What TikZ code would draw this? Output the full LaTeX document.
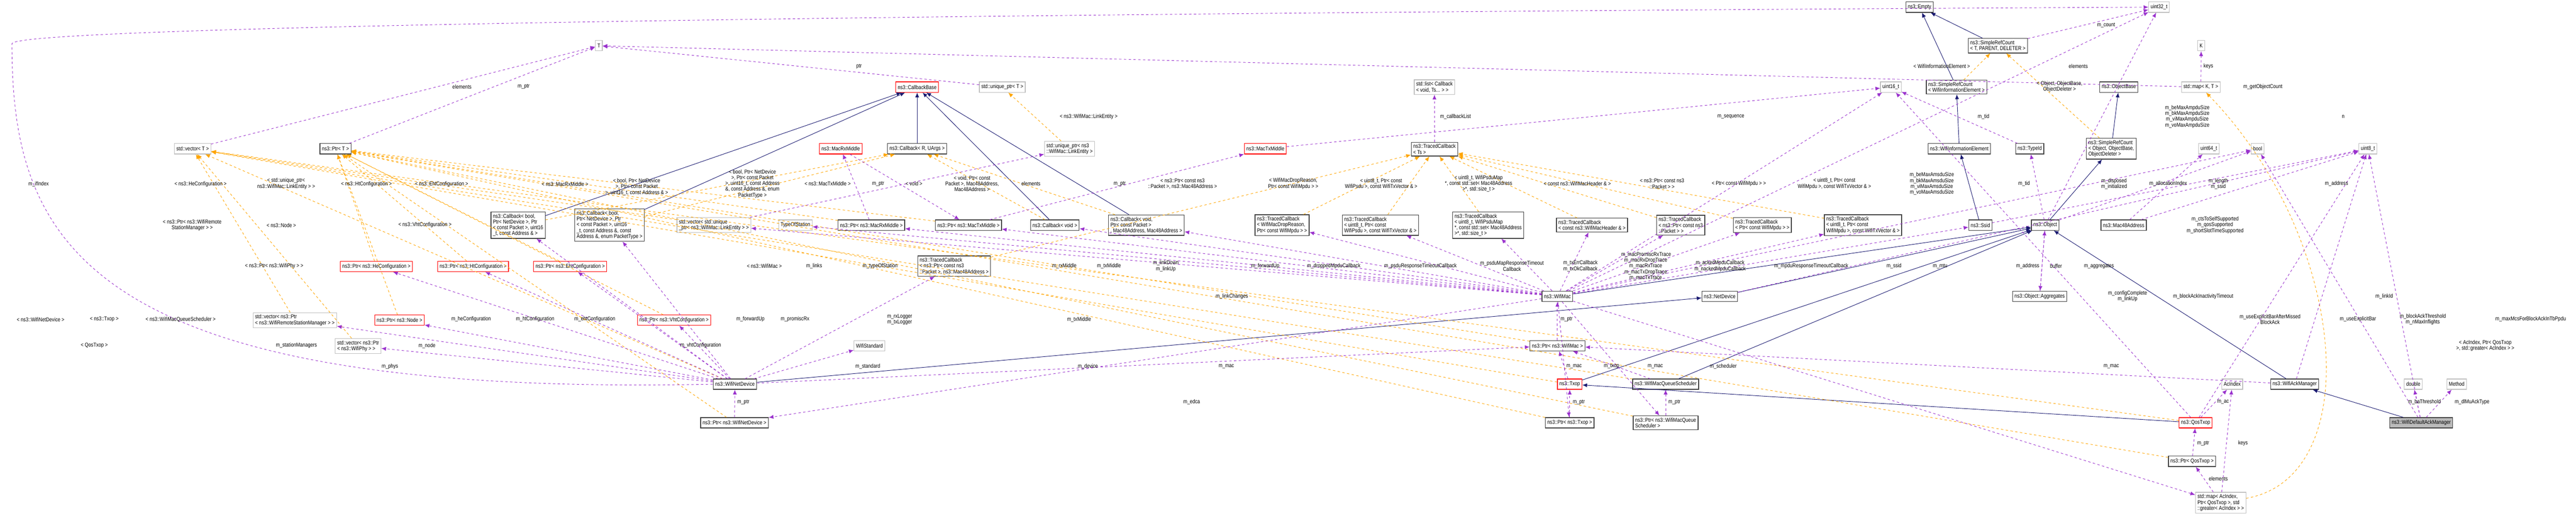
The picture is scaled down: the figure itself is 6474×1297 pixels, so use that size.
\documentclass[tikz,border=0pt]{standalone}
\usepackage{fontspec}
\setmainfont[FakeStretch=0.84]{Liberation Sans}
\usetikzlibrary{arrows.meta}
\definecolor{usec}{HTML}{9A32CD}
\definecolor{tplc}{HTML}{FFA500}
\definecolor{inhc}{HTML}{191970}
\newcommand{\fs}{\fontsize{7}{7.3}\selectfont}
\tikzset{
 box/.style={draw=black!75, line width=0.8pt, fill=white, font=\fs, align=left, inner sep=2.5pt, minimum height=13pt},
 rbox/.style={box, draw=red},
 gbox/.style={box, draw=black!25},
 mbox/.style={box, fill=black!27},
 use/.style={draw=usec, dashed, line width=0.6pt, -{Latex[length=6pt,width=5pt]}},
 tpl/.style={draw=tplc, dashed, line width=0.6pt, -{Latex[length=6pt,width=5pt]}},
 inh/.style={draw=inhc, line width=0.6pt, -{Latex[length=6pt,width=5pt]}},
 lbl/.style={font=\fs, align=center, inner sep=0pt}
}
\begin{document}
\begin{tikzpicture}[x=0.5pt,y=-0.5pt]
\useasboundingbox (0,0) rectangle (6474,1297);
% ---------- nodes
\node[gbox] (T) at (1505,115) {T};
\node[gbox] (vecT) at (484,374) {std::vector< T >};
\node[box] (ptrT) at (843,374) {ns3::Ptr< T >};
\node[box] (cb1) at (1302,566) {ns3::Callback< bool,\\ Ptr< NetDevice >, Ptr\\< const Packet >, uint16\\\_t, const Address \& >};
\node[box] (cb2) at (1532,566) {ns3::Callback< bool,\\ Ptr< NetDevice >, Ptr\\< const Packet >, uint16\\\_t, const Address \&, const\\ Address \&, enum PacketType >};
\node[rbox] (ptrHe) at (946,670) {ns3::Ptr< ns3::HeConfiguration >};
\node[rbox] (ptrHt) at (1189,670) {ns3::Ptr< ns3::HtConfiguration >};
\node[rbox] (ptrEht) at (1433,670) {ns3::Ptr< ns3::EhtConfiguration >};
\node[gbox] (vecWRSM) at (741,805) {std::vector< ns3::Ptr\\< ns3::WifiRemoteStationManager > >};
\node[rbox] (ptrNode) at (1004,805) {ns3::Ptr< ns3::Node >};
\node[rbox] (ptrVht) at (1694,805) {ns3::Ptr< ns3::VhtConfiguration >};
\node[gbox] (vecPhy) at (900,870) {std::vector< ns3::Ptr\\< ns3::WifiPhy > >};
\node[rbox] (cbBase) at (2305,219) {ns3::CallbackBase};
\node[gbox] (uptrT) at (2519,219) {std::unique\_ptr< T >};
\node[rbox] (macRx) at (2113,374) {ns3::MacRxMiddle};
\node[box] (cbR) at (2305,374) {ns3::Callback< R, UArgs >};
\node[gbox] (uptrLE) at (2688,374) {std::unique\_ptr< ns3\\::WifiMac::LinkEntity >};
\node[rbox] (macTx) at (3180,374) {ns3::MacTxMiddle};
\node[gbox] (vecLE) at (1794,566) {std::vector< std::unique\\\_ptr< ns3::WifiMac::LinkEntity > >};
\node[gbox] (tos) at (1999,566) {TypeOfStation};
\node[box] (ptrRx) at (2190,566) {ns3::Ptr< ns3::MacRxMiddle >};
\node[box] (ptrTx) at (2434,566) {ns3::Ptr< ns3::MacTxMiddle >};
\node[box] (cbVoid) at (2651,566) {ns3::Callback< void >};
\node[box] (cbVoidPkt) at (2881,566) {ns3::Callback< void,\\ Ptr< const Packet >\\, Mac48Address, Mac48Address >};
\node[box] (tcDrop) at (3222,566) {ns3::TracedCallback\\< WifiMacDropReason,\\ Ptr< const WifiMpdu > >};
\node[box] (tcPsdu) at (3469,566) {ns3::TracedCallback\\< uint8\_t, Ptr< const\\ WifiPsdu >, const WifiTxVector \& >};
\node[box] (tcPsduMap) at (3740,566) {ns3::TracedCallback\\< uint8\_t, WifiPsduMap\\*, const std::set< Mac48Address\\>*, std::size\_t >};
\node[box] (tcHdr) at (4001,566) {ns3::TracedCallback\\< const ns3::WifiMacHeader \& >};
\node[box] (tcPkt) at (4224,566) {ns3::TracedCallback\\< ns3::Ptr< const ns3\\::Packet > >};
\node[box] (tcMpdu) at (4429,566) {ns3::TracedCallback\\< Ptr< const WifiMpdu > >};
\node[box] (tcMpdu8) at (4682,566) {ns3::TracedCallback\\< uint8\_t, Ptr< const\\ WifiMpdu >, const WifiTxVector \& >};
\node[box] (tcRxLog) at (2398,669) {ns3::TracedCallback\\< ns3::Ptr< const ns3\\::Packet >, ns3::Mac48Address >};
\node[gbox] (wstd) at (2185,869) {WifiStandard};
\node[box] (wnd) at (1847,966) {ns3::WifiNetDevice};
\node[box] (ptrWnd) at (1846,1063) {ns3::Ptr< ns3::WifiNetDevice >};
\node[box] (empty) at (4824,18) {ns3::Empty};
\node[gbox] (list) at (3605,219) {std::list< Callback\\< void, Ts... > >};
\node[gbox] (u16) at (4752,219) {uint16\_t};
\node[box] (srcWie) at (4917,219) {ns3::SimpleRefCount\\< WifiInformationElement >};
\node[box] (tcTs) at (3605,375) {ns3::TracedCallback\\< Ts >};
\node[box] (wie) at (4924,374) {ns3::WifiInformationElement};
\node[box] (wmac) at (3914,745) {ns3::WifiMac};
\node[box] (netdev) at (4322,745) {ns3::NetDevice};
\node[box] (ptrMac) at (3914,869) {ns3::Ptr< ns3::WifiMac >};
\node[rbox] (txop) at (3945,966) {ns3::Txop};
\node[box] (wmqs) at (4186,966) {ns3::WifiMacQueueScheduler};
\node[box] (ptrTxop) at (3945,1063) {ns3::Ptr< ns3::Txop >};
\node[box] (ptrWmqs) at (4186,1063) {ns3::Ptr< ns3::WifiMacQueue\\Scheduler >};
\node[gbox] (u32) at (5426,18) {uint32\_t};
\node[box] (srcT) at (5021,115) {ns3::SimpleRefCount\\< T, PARENT, DELETER >};
\node[gbox] (K) at (5532,115) {K};
\node[box] (objBase) at (5325,219) {ns3::ObjectBase};
\node[gbox] (mapKT) at (5531,219) {std::map< K, T >};
\node[box] (typeId) at (5101,374) {ns3::TypeId};
\node[box] (srcObj) at (5306,374) {ns3::SimpleRefCount\\< Object, ObjectBase,\\ObjectDeleter >};
\node[gbox] (u64) at (5551,374) {uint64\_t};
\node[gbox] (bool) at (5674,374) {bool};
\node[gbox] (u8) at (5951,374) {uint8\_t};
\node[box] (ssid) at (4977,566) {ns3::Ssid};
\node[box] (obj) at (5140,566) {ns3::Object};
\node[box] (mac48) at (5337,566) {ns3::Mac48Address};
\node[box] (aggr) at (5126,745) {ns3::Object::Aggregates};
\node[gbox] (acidx) at (5610,966) {AcIndex};
\node[box] (wam) at (5767,966) {ns3::WifiAckManager};
\node[gbox] (double) at (6065,966) {double};
\node[gbox] (method) at (6174,966) {Method};
\node[rbox] (qos) at (5518,1063) {ns3::QosTxop};
\node[mbox] (wdam) at (6085,1063) {ns3::WifiDefaultAckManager};
\node[box] (ptrQos) at (5509,1160) {ns3::Ptr< QosTxop >};
\node[gbox] (mapAc) at (5581,1264) {std::map< AcIndex,\\Ptr< QosTxop >, std\\::greater< AcIndex > >};
% ---------- inheritance
\foreach \a/\b in {cb1/cbBase,cb2/cbBase,cbR/cbBase,cbVoid/cbBase,cbVoidPkt/cbBase,wnd/netdev,netdev/obj,wmac/obj,txop/obj,qos/txop,wmqs/obj,wam/obj,wdam/wam,obj/srcObj,srcObj/objBase,ssid/wie,wie/srcWie,srcWie/empty,srcT/empty}
  \draw[inh] (\a) -- (\b);
% ---------- templates
\foreach \a in {ptrHe,ptrHt,ptrEht,ptrVht,ptrNode,ptrWnd,ptrRx,ptrTx,ptrMac,ptrTxop,ptrWmqs,ptrQos}
  \draw[tpl] (\a) -- (ptrT);
\foreach \a in {vecWRSM,vecPhy,vecLE,wnd,txop,qos,wmqs} \draw[tpl] (\a) -- (vecT);
\foreach \a in {cb1,cb2,cbVoid,cbVoidPkt} \draw[tpl] (\a) -- (cbR);
\foreach \a in {tcDrop,tcPsdu,tcPsduMap,tcHdr,tcPkt,tcMpdu,tcMpdu8,tcRxLog} \draw[tpl] (\a) -- (tcTs);
\draw[tpl] (uptrLE) -- (uptrT);
\draw[tpl] (srcWie) -- (srcT);
\draw[tpl] (srcObj) -- (srcT);
\draw[tpl] (mapAc) .. controls (5950,1200) and (5900,600) .. (mapKT);
% ---------- usage
\draw[use] (vecT) -- (T);
\draw[use] (ptrT) -- (T);
\draw[use] (uptrT) -- (T);
\draw[use] (mapKT) -- (T);
\draw[use] (mapKT) -- (K);
\foreach \b in {ptrHe,ptrHt,ptrEht,ptrVht,ptrNode,vecWRSM,vecPhy,cb1,cb2,wstd,tcRxLog,ptrMac}
  \draw[use] (wnd) -- (\b);
\draw[use] (wnd.west) .. controls (200,1000) and (30,600) .. (30,110) .. controls (30,60) and (3000,30) .. (u32.west);
\draw[use] (ptrWnd) -- (wnd);
\foreach \b in {vecLE,tos,ptrRx,ptrTx,cbVoid,cbVoidPkt,tcDrop,tcPsdu,tcPsduMap,tcHdr,tcPkt,tcMpdu,tcMpdu8,ssid,ptrWnd,ptrTxop,ptrWmqs,mapAc,bool,u16,u32}
  \draw[use] (wmac) -- (\b);
\draw[use] (ptrRx) -- (macRx);
\draw[use] (ptrTx) -- (macTx);
\draw[use] (macRx) -- (ptrTx);
\draw[use] (vecLE) -- (uptrLE);
\draw[use] (macTx) -- (u16);
\draw[use] (tcTs) -- (list);
\draw[use] (ptrMac) -- (wmac);
\foreach \a in {txop,wmqs,wam} \draw[use] (\a) -- (ptrMac);
\draw[use] (ptrTxop) -- (txop);
\draw[use] (ptrWmqs) -- (wmqs);
\draw[use] (ptrQos) -- (qos);
\draw[use] (qos) -- (acidx);
\draw[use] (mapAc) -- (ptrQos);
\draw[use] (mapAc) -- (acidx);
\draw[use] (qos) -- (u8);
\draw[use] (qos) -- (u16);
\foreach \b in {double,method,bool,u8} \draw[use] (wdam) -- (\b);
\draw[use] (wam) -- (u8);
\draw[use] (obj) -- (bool);
\draw[use] (obj) -- (aggr);
\draw[use] (aggr) -- (obj);
\draw[use] (obj) -- (typeId);
\draw[use] (srcT) -- (u32);
\draw[use] (obj) -- (u32);
\draw[use] (typeId) -- (u16);
\draw[use] (mac48) -- (u8);
\draw[use] (mac48) -- (u64);
\draw[use] (ssid) -- (u8);
\draw[use] (netdev) -- (u8);
% ---------- labels
\foreach \x/\y/\t in {
1161/218/elements, 1316/218/m\_ptr, 97/463/m\_ifIndex, 504/463/< ns3::HeConfiguration >,
719/462/{< std::unique\_ptr<\\ns3::WifiMac::LinkEntity > >}, 921/463/< ns3::HtConfiguration >,
1110/463/< ns3::EhtConfiguration >, 1420/463/< ns3::MacRxMiddle >,
1600/470/{< bool, Ptr< NetDevice\\>, Ptr< const Packet\\>, uint16\_t, const Address \& >},
483/566/{< ns3::Ptr< ns3::WifiRemote\\StationManager > >}, 707/566/< ns3::Node >, 1068/566/< ns3::VhtConfiguration >,
689/669/< ns3::Ptr< ns3::WifiPhy > >, 102/803/< ns3::WifiNetDevice >, 262/803/< ns3::Txop >,
454/803/< ns3::WifiMacQueueScheduler >, 1184/803/m\_heConfiguration, 1345/803/m\_htConfiguration,
1495/803/m\_ehtConfiguration, 237/869/< QosTxop >, 745/869/m\_stationManagers, 1073/869/m\_node, 980/921/m\_phys,
2159/167/ptr, 2736/293/< ns3::WifiMac::LinkEntity >,
1891/462/{< bool, Ptr< NetDevice\\>, Ptr< const Packet\\>, uint16\_t, const Address\\\&, const Address \&, enum\\PacketType >},
2080/462/< ns3::MacTxMiddle >, 2207/462/m\_ptr, 2297/462/< void >,
2443/462/{< void, Ptr< const\\Packet >, Mac48Address,\\Mac48Address >}, 2591/462/elements, 2814/462/m\_ptr,
2972/462/{< ns3::Ptr< const ns3\\::Packet >, ns3::Mac48Address >},
1921/669/< ns3::WifiMac >, 2046/669/m\_links, 2212/669/m\_typeOfStation, 2675/669/m\_rxMiddle, 2787/669/m\_txMiddle,
2930/669/{m\_linkDown\\m\_linkUp}, 3180/669/m\_forwardUp, 3096/745/m\_linkChanges, 1761/869/m\_vhtConfiguration,
1886/803/m\_forwardUp, 1998/803/m\_promiscRx, 2261/803/{m\_rxLogger\\m\_txLogger}, 2712/803/m\_txMiddle,
2181/921/m\_standard, 2734/921/m\_device, 3082/921/m\_mac, 1868/1011/m\_ptr, 2995/1011/m\_edca,
4880/167/< WifiInformationElement >, 3658/293/m\_callbackList, 4350/293/m\_sequence,
3250/462/{< WifiMacDropReason,\\Ptr< const WifiMpdu > >}, 3471/462/{< uint8\_t, Ptr< const\\WifiPsdu >, const WifiTxVector \& >},
3716/462/{< uint8\_t, WifiPsduMap\\*, const std::set< Mac48Address\\>*, std::size\_t >}, 3964/462/< const ns3::WifiMacHeader \& >,
4177/462/{< ns3::Ptr< const ns3\\::Packet > >}, 4370/462/< Ptr< const WifiMpdu > >,
4610/462/{< uint8\_t, Ptr< const\\WifiMpdu >, const WifiTxVector \& >},
4855/462/{m\_beMaxAmsduSize\\m\_bkMaxAmsduSize\\m\_viMaxAmsduSize\\m\_voMaxAmsduSize}, 4137/640/m\_macPromiscRxTrace,
3352/669/m\_droppedMpduCallback, 3570/669/m\_psduResponseTimeoutCallback, 3800/669/{m\_psduMapResponseTimeout\\Callback},
3972/669/{m\_txErrCallback\\m\_txOkCallback}, 4136/677/{m\_macRxDropTrace\\m\_macRxTrace\\m\_macTxDropTrace\\m\_macTxTrace},
4323/669/{m\_ackedMpduCallback\\m\_nackedMpduCallback}, 4552/669/m\_mpduResponseTimeoutCallback, 4760/669/m\_ssid,
3937/803/m\_ptr, 3956/921/m\_mac, 4050/921/m\_txop, 4160/921/m\_mac, 4331/921/m\_scheduler, 3968/1011/m\_ptr, 4208/1011/m\_ptr,
5293/63/m\_count, 5223/167/elements, 5550/167/keys, 5176/218/{< Object, ObjectBase,\\ObjectDeleter >}, 5687/218/m\_getObjectCount,
4985/293/m\_tid, 5497/293/{m\_beMaxAmpduSize\\m\_bkMaxAmpduSize\\m\_viMaxAmpduSize\\m\_voMaxAmpduSize}, 5889/293/n,
5087/462/m\_tid, 5313/462/{m\_disposed\\m\_initialized}, 5449/462/m\_allocationIndex, 5575/462/{m\_length\\m\_ssid}, 5872/462/m\_address,
5567/566/{m\_ctsToSelfSupported\\m\_qosSupported\\m\_shortSlotTimeSupported},
4876/669/m\_mtu, 5096/669/m\_address, 5167/669/buffer, 5275/669/m\_aggregates,
5347/745/{m\_configComplete\\m\_linkUp}, 5537/745/m\_blockAckInactivityTimeout, 5992/745/m\_linkId,
5705/803/{m\_useExplicitBarAfterMissed\\BlockAck}, 5926/803/m\_useExplicitBar, 6089/803/{m\_blockAckThreshold\\m\_nMaxInflights},
6360/803/m\_maxMcsForBlockAckInTbPpdu, 6246/869/{< AcIndex, Ptr< QosTxop\\>, std::greater< AcIndex > >},
5306/921/m\_mac, 5587/1011/m\_ac, 6093/1011/m\_baThreshold, 6213/1011/m\_dlMuAckType,
5537/1115/m\_ptr, 5637/1115/keys, 5575/1204/elements}
  \node[lbl] at (\x,\y) {\t};
\end{tikzpicture}
\end{document}
